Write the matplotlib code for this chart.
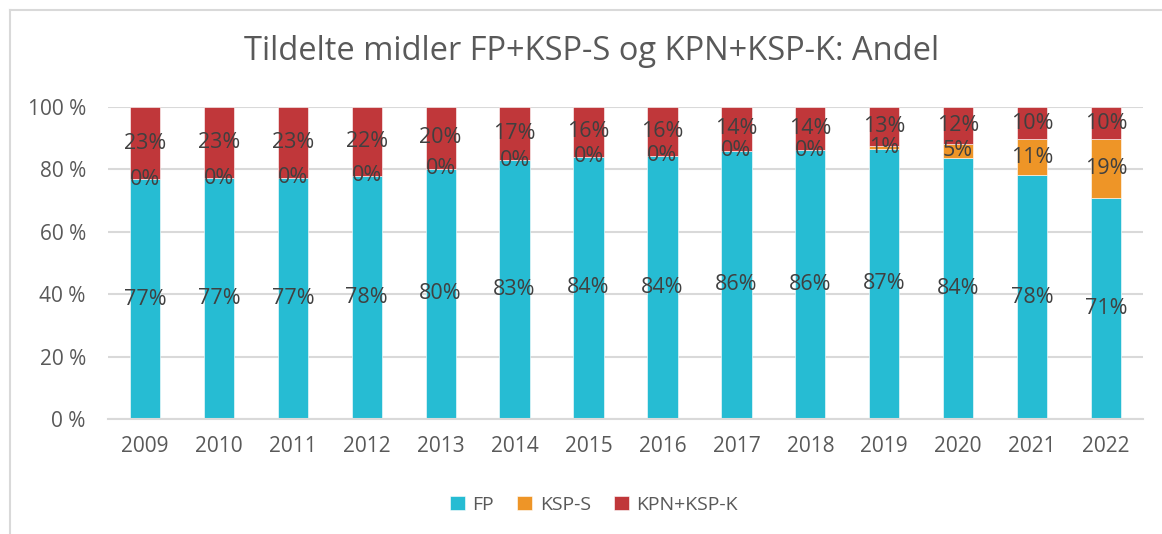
import matplotlib.pyplot as plt
from matplotlib.lines import Line2D
import numpy as np

plt.rcParams['font.family'] = ['Open Sans', 'DejaVu Sans']

# data (andel i prosent)
years = ['2009', '2010', '2011', '2012', '2013', '2014', '2015', '2016',
         '2017', '2018', '2019', '2020', '2021', '2022']
fp = [76.8, 77.2, 77.3, 78.0, 80.2, 83.0, 84.0, 84.3, 86.0, 86.2, 86.6, 83.6, 78.2, 70.7]
ksp_s = [0, 0, 0, 0, 0, 0, 0, 0, 0, 0, 0.8, 4.7, 11.4, 18.9]
kpn_ksp_k = [23.2, 22.8, 22.7, 22.0, 19.8, 17.0, 16.0, 15.7, 14.0, 13.8, 12.6, 11.7, 10.4, 10.4]

series = [('FP', fp, '#26bcd3'), ('KSP-S', ksp_s, '#ee9527'), ('KPN+KSP-K', kpn_ksp_k, '#c0373a')]

W, H = 1162, 534
fig = plt.figure(figsize=(W / 100, H / 100), dpi=100)
ax = fig.add_axes([108 / W, (H - 419) / H, (1143 - 108) / W, (419 - 107) / H])

x = np.arange(len(years))
bottom = np.zeros(len(years))
for name, vals, col in series:
    vals = np.array(vals, dtype=float)
    ax.bar(x, vals, 0.41, bottom=bottom, color=col, label=name,
           edgecolor='white', linewidth=0.4, zorder=2)
    for xi, b, v in zip(x, bottom, vals):
        ax.text(xi, b + v / 2, f'{v:.0f}%', ha='center', va='center',
                fontsize=15.5, color='#404040', zorder=3)
    bottom += vals

ax.set_xlim(-0.5, len(years) - 0.5)
ax.set_ylim(0, 100)
ax.set_yticks(range(0, 101, 20))
ax.set_yticklabels([f'{v} %' for v in range(0, 101, 20)])
ax.set_xticks(x)
ax.set_xticklabels(years)
ax.tick_params(length=0, labelsize=15, labelcolor='#595959')
ax.tick_params(axis='y', pad=16)
ax.tick_params(axis='x', pad=12)
ax.grid(axis='y', color='#d9d9d9', linewidth=1.5, zorder=0)
for s in ['top', 'right', 'left']:
    ax.spines[s].set_visible(False)
ax.spines['bottom'].set_color('#d9d9d9')
ax.spines['bottom'].set_linewidth(1.5)

fig.text(592 / W, 1 - 52 / H, 'Tildelte midler FP+KSP-S og KPN+KSP-K: Andel',
         ha='center', va='center', fontsize=23.5, color='#595959')

fig.legend(loc='center', bbox_to_anchor=(594 / W, 1 - 505 / H), ncol=3,
           frameon=False, fontsize=14, handlelength=0.75, handleheight=0.75,
           handletextpad=0.4, columnspacing=1.2, labelcolor='#595959')

# chart frame (cropped)
fig.add_artist(Line2D([9.5 / W, 9.5 / W], [0, 1 - 9.5 / H], color='#d9d9d9', lw=1.5))
fig.add_artist(Line2D([9.5 / W, 1], [1 - 9.5 / H, 1 - 9.5 / H], color='#d9d9d9', lw=1.5))

fig.savefig('out.png', dpi=100)
